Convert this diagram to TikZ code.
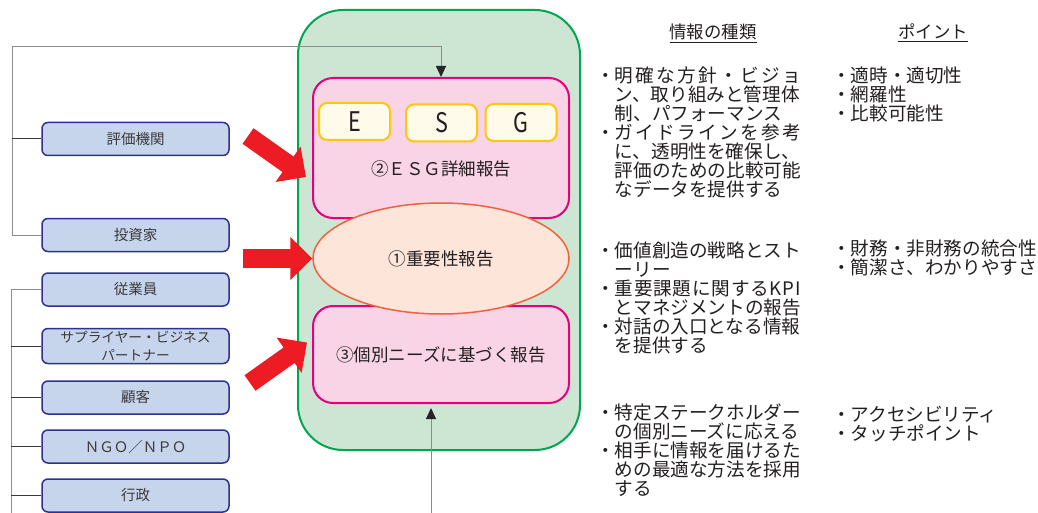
\documentclass[tikz,border=0pt]{standalone}
\usepackage{fontspec}
\setmainfont{Noto Sans CJK JP}
\usetikzlibrary{shapes.geometric,arrows.meta,calc}
\definecolor{grnfill}{HTML}{CCE6D3}
\definecolor{grnline}{HTML}{00A650}
\definecolor{pinkfill}{HTML}{F9D4E6}
\definecolor{pinkline}{HTML}{E5007F}
\definecolor{ellfill}{HTML}{FDE5DA}
\definecolor{ellline}{HTML}{F0623E}
\definecolor{yelfill}{HTML}{FFFBEB}
\definecolor{yelline}{HTML}{FFC60B}
\definecolor{bluefill}{HTML}{C6D4EC}
\definecolor{blueline}{HTML}{2E3192}
\definecolor{redarrow}{HTML}{ED1C24}
\definecolor{txt}{HTML}{231F20}
\definecolor{txtb}{HTML}{3A3A3A}
\definecolor{conn}{HTML}{8C8C8C}
\definecolor{stubc}{HTML}{3A3A3A}
\makeatletter
\newcommand\spreadtext[1]{\makebox[10em][s]{\spr@first#1\@nil}}
\def\spr@first#1{#1\spr@next}
\def\spr@next#1{\ifx#1\@nil\else\hfill#1\expandafter\spr@next\fi}
\makeatother
\begin{document}
\begin{tikzpicture}[x=1pt,y=-1pt,
  lbox/.style={draw=blueline, fill=bluefill, line width=1.5pt, rounded corners=6pt,
    minimum width=187pt, minimum height=33pt, inner sep=0pt, align=center,
    text=txtb, font=\fontsize{14.5}{17}\selectfont},
  pbox/.style={draw=pinkline, fill=pinkfill, line width=2pt, rounded corners=20pt,
    minimum width=256pt, inner sep=0pt, text=txt, font=\fontsize{17.5}{20}\selectfont},
  ebox/.style={draw=yelline, fill=yelfill, line width=2pt, rounded corners=8pt,
    minimum width=71pt, minimum height=37pt, inner sep=0pt, text=txt,
    font=\fontsize{27}{27}\selectfont},
  col/.style={anchor=north west, inner sep=0pt, align=left, text=txt,
    font=\fontsize{18.6}{19}\selectfont},
  hdr/.style={anchor=base, inner sep=0pt, text=txt, font=\fontsize{17.4}{20}\selectfont},
  conline/.style={conn, line width=1pt},
  stub/.style={stubc, line width=1pt},
  tipd/.style={-{Triangle[width=10pt,length=11pt,color=black!85]}},
  redarr/.style={redarrow, line width=19pt, -{Triangle[width=42pt,length=22pt]}}
]
\useasboundingbox (0,0) rectangle (1038,513);
\fill[white] (0,0) rectangle (1038,513);

% container
\node[draw=grnline, fill=grnfill, line width=2pt, rounded corners=45pt,
  minimum width=282pt, minimum height=440pt, inner sep=0pt] (cont) at (439,230) {};

% left boxes
\node[lbox] (hyo) at (135.5,139) {評価機関};
\node[lbox] (inv) at (135.5,235) {投資家};
\node[lbox] (emp) at (135.5,289.5) {従業員};
\node[lbox, minimum height=35pt, font=\fontsize{13.7}{17.5}\selectfont] (sup) at (135.5,346) {サプライヤー・ビジネス\\パートナー};
\node[lbox] (cus) at (135.5,397.5) {顧客};
\node[lbox] (ngo) at (135.5,446.5) {ＮＧＯ／ＮＰＯ};
\node[lbox] (gov) at (135.5,495.5) {行政};

% report boxes
\node[pbox, minimum height=140pt] (esg) at (441,148) {};
\node[ebox] (be) at (354.5,121.5) {\scalebox{0.8}[1]{E}};
\node[ebox] (bs) at (441.5,123) {\scalebox{0.8}[1]{S}};
\node[ebox] (bg) at (521,122.5) {\scalebox{0.8}[1]{G}};
\node[inner sep=0pt, text=txt, font=\fontsize{17.5}{20}\selectfont] (esgt) at (441,169) {②ＥＳＧ詳細報告};
\node[pbox, minimum height=97pt] (ind) at (441,354.5) {③個別ニーズに基づく報告};
\node[ellipse, draw=ellline, fill=ellfill, line width=1.5pt, minimum width=256pt,
  minimum height=111pt, inner sep=0pt, text=txt, font=\fontsize{17.5}{20}\selectfont] (mat) at (441,258.5) {①重要性報告};

% connectors
\coordinate (tl) at (12,47);
\draw[conline, tipd] (inv.west) -| (tl) -| (esg.north);
\draw[stub] (hyo.west) -- (hyo.west -| tl);
\coordinate (bl) at (11,290);
\coordinate (bb) at (11,513);
\draw[conline] (emp.west) -- (emp.west -| bl) -- (bb);
\draw[stub] (sup.west) -- (sup.west -| bl);
\draw[stub] (cus.west) -- (cus.west -| bl);
\draw[stub] (ngo.west) -- (ngo.west -| bl);
\draw[stub] (gov.west) -- (gov.west -| bl);
\coordinate (ba) at (431,513);
\draw[conline, tipd, shorten >=4pt] (ba) -- (ind.south -| ba);

% red arrows
\coordinate (r1) at (248,136);
\coordinate (r2) at (243,258.5);
\coordinate (r3) at (250,383);
\draw[redarr] (r1) -- ($(esg.west)+(-6,29)$);
\draw[redarr] (r2) -- (mat.west);
\draw[redarr] (r3) -- ($(ind.west)+(-5,-12)$);

% headers
\node[hdr] (h1) at (713,39) {\underline{情報の種類}};
\node[hdr] (h2) at (933,39) {\underline{ポイント}};

% column 1
\node[col] (c1a) at (596,67) {・\spreadtext{明確な方針・ビジョ}\\
　ン、取り組みと管理体\\
　制、パフォーマンス\\
・\spreadtext{ガイドラインを参考}\\
　に、透明性を確保し、\\
　評価のための比較可能\\
　なデータを提供する};
\node[col] (c1b) at (596,242) {・価値創造の戦略とスト\\
　ーリー\\
・\spreadtext{重要課題に関するKPI}\\
　とマネジメントの報告\\
・対話の入口となる情報\\
　を提供する};
\node[col] (c1c) at (596,404) {・特定ステークホルダー\\
　の個別ニーズに応える\\
・相手に情報を届けるた\\
　めの最適な方法を採用\\
　する};

% column 2
\node[col] (c2a) at (832,67) {・適時・適切性\\・網羅性\\・比較可能性};
\node[col] (c2b) at (832,240) {・財務・非財務の統合性\\・簡潔さ、わかりやすさ};
\node[col] (c2c) at (832,406) {・アクセシビリティ\\・タッチポイント};
\end{tikzpicture}
\end{document}
